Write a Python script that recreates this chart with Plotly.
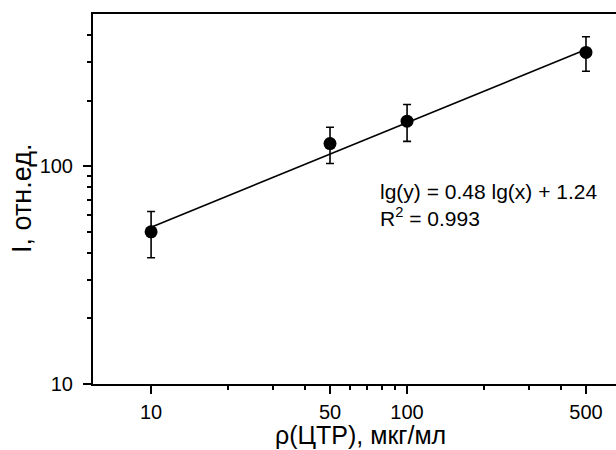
import plotly.graph_objects as go
import numpy as np

# Data
conc = [10, 50, 100, 500]            # ρ(ЦТР), мкг/мл
intensity = [50, 127, 161, 333]      # I, отн.ед.
err = [12, 24, 31, 60]
slope, intercept = 0.48, 1.24
x_major = [10, 50, 100, 500]
x_minor = [20, 30, 40, 60, 70, 80, 90, 200, 300, 400]
y_major = [10, 100]
y_minor = [20, 30, 40, 50, 60, 70, 80, 90, 200, 300, 400]

fit_x = np.array([conc[0], conc[-1]], dtype=float)
fit_y = 10 ** (intercept + slope * np.log10(fit_x))

FONT = "Liberation Sans, Arial, sans-serif"

fig = go.Figure()
fig.add_trace(go.Scatter(x=fit_x, y=fit_y, mode="lines",
                         line=dict(color="black", width=1.6), showlegend=False))
fig.add_trace(go.Scatter(x=conc, y=intensity, mode="markers",
                         marker=dict(color="black", size=13),
                         error_y=dict(type="data", array=err, color="black",
                                      thickness=1.6, width=4),
                         showlegend=False))

fig.update_layout(
    width=616, height=450,
    margin=dict(l=93, r=0, t=14, b=66),
    paper_bgcolor="white", plot_bgcolor="white",
    font=dict(family=FONT, color="black", size=20),
    xaxis=dict(type="log", range=[np.log10(5.93), np.log10(655)],
               showline=True, linecolor="black", linewidth=2, mirror=True,
               showgrid=False, zeroline=False,
               ticks="outside", ticklen=8, tickwidth=2, tickcolor="black",
               tickmode="array", tickvals=x_major,
               ticktext=[str(v) for v in x_major],
               ticklabelstandoff=1,
               minor=dict(ticks="outside", ticklen=4, tickwidth=2,
                          tickcolor="black", tickmode="array", tickvals=x_minor,
                          showgrid=False)),
    yaxis=dict(type="log", range=[1, np.log10(500)],
               showline=True, linecolor="black", linewidth=2, mirror=False,
               showgrid=False, zeroline=False,
               ticks="outside", ticklen=8, tickwidth=2, tickcolor="black",
               tickmode="array", tickvals=y_major,
               ticktext=[str(v) for v in y_major],
               ticklabelstandoff=6,
               minor=dict(ticks="outside", ticklen=4, tickwidth=2,
                          tickcolor="black", tickmode="array", tickvals=y_minor,
                          showgrid=False)),
    annotations=[
        dict(text="ρ(ЦТР), мкг/мл", xref="paper", yref="paper",
             x=(360 - 93) / 523, y=-(435 - 384) / 370, xanchor="center",
             yanchor="middle", showarrow=False, font=dict(size=25)),
        dict(text="I, отн.ед.", xref="paper", yref="paper",
             x=-(93 - 22) / 523, y=0.5, xanchor="center", yanchor="middle",
             textangle=-90, showarrow=False, font=dict(size=27)),
        dict(text="lg(y) = 0.48 lg(x) + 1.24<br>R<sup>2</sup> = 0.993",
             xref="paper", yref="paper", x=(378 - 93) / 523,
             y=(384 - 205.5) / 370, xanchor="left", yanchor="middle",
             align="left", showarrow=False, font=dict(size=21)),
    ],
)

fig.write_html("out.html",
               config={"displayModeBar": False},
               post_script="document.body.style.margin='0';"
                           "document.documentElement.style.overflow='hidden';")
